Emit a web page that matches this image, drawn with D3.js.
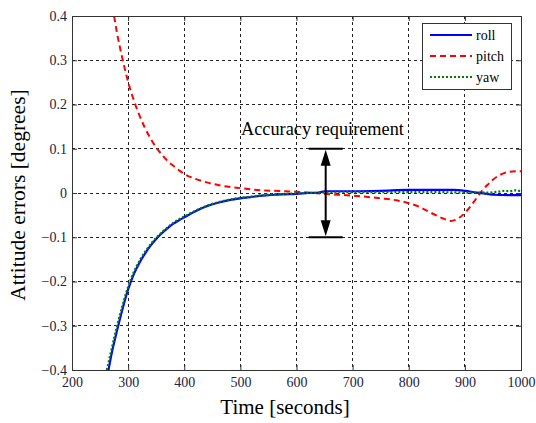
<!DOCTYPE html>
<html>
<head>
<meta charset="utf-8">
<script src="https://cdn.jsdelivr.net/npm/d3@7"></script>
<style>
  html, body { margin: 0; padding: 0; background: #fff; }
  svg { display: block; }
  text { font-family: "Liberation Serif", "Times New Roman", serif; }
</style>
</head>
<body>
<svg id="chart" width="536" height="423"></svg>
<script>
// Attitude error histories (degrees) against time (seconds)
const rollTime  = [265,270,280,290,300,310,320,330,340,350,360,370,380,390,400,420,440,460,480,500,520,540,560,580,600,620,640,650,700,750,800,850,880,900,920,940,950,1000];
const rollValue = [-0.400,-0.367,-0.312,-0.262,-0.218,-0.184,-0.158,-0.137,-0.119,-0.104,-0.091,-0.080,-0.070,-0.062,-0.055,-0.041,-0.030,-0.022,-0.016,-0.012,-0.009,-0.006,-0.004,-0.003,-0.002,0.000,0.001,0.004,0.004,0.005,0.007,0.007,0.007,0.005,0.001,-0.002,-0.004,-0.005];

const pitchTime  = [275,280,290,300,310,320,330,340,350,360,370,380,390,400,420,440,460,480,500,520,540,560,580,600,620,650,700,750,780,800,820,840,860,875,890,900,910,920,930,940,950,960,970,980,990,1000];
const pitchValue = [0.400,0.363,0.303,0.251,0.210,0.176,0.147,0.123,0.103,0.087,0.073,0.062,0.052,0.043,0.032,0.024,0.018,0.014,0.011,0.008,0.006,0.005,0.004,0.003,0.001,-0.002,-0.006,-0.012,-0.017,-0.023,-0.032,-0.045,-0.057,-0.063,-0.056,-0.045,-0.030,-0.013,0.004,0.018,0.030,0.039,0.045,0.048,0.049,0.049];

const yawTime  = [262,270,280,290,300,310,320,330,340,350,360,370,380,390,400,420,440,460,480,500,520,540,560,580,600,650,700,750,800,850,900,940,960,970,980,990,1000];
const yawValue = [-0.400,-0.356,-0.302,-0.254,-0.212,-0.179,-0.154,-0.133,-0.116,-0.101,-0.089,-0.078,-0.068,-0.060,-0.053,-0.040,-0.029,-0.021,-0.015,-0.011,-0.008,-0.005,-0.003,-0.002,-0.001,0.001,0.002,0.002,0.002,0.002,0.001,0.001,0.003,0.005,0.004,0.006,0.004];

const xTicks = [200,300,400,500,600,700,800,900,1000];
const yTicks = [-0.4,-0.3,-0.2,-0.1,0,0.1,0.2,0.3,0.4];
const seriesNames = ["roll","pitch","yaw"];
const requirementBand = [-0.1, 0.1];
const requirementTime = 652;

const svg = d3.select("#chart");
const m = { left: 72, right: 15, top: 16, bottom: 53 };
const W = 536, H = 423;
const iw = W - m.left - m.right, ih = H - m.top - m.bottom;

const x = d3.scaleLinear().domain([200, 1000]).range([0, iw]);
const y = d3.scaleLinear().domain([-0.4, 0.4]).range([ih, 0]);

const g = svg.append("g").attr("transform", `translate(${m.left},${m.top})`);

svg.append("defs").append("clipPath").attr("id", "plotClip")
  .append("rect").attr("width", iw).attr("height", ih);

// dashed grid
const grid = g.append("g").attr("class", "grid");
grid.selectAll("line.vx").data(xTicks.slice(1, -1)).join("line")
  .attr("x1", d => x(d)).attr("x2", d => x(d)).attr("y1", 0).attr("y2", ih);
grid.selectAll("line.hy").data(yTicks.slice(1, -1)).join("line")
  .attr("y1", d => y(d)).attr("y2", d => y(d)).attr("x1", 0).attr("x2", iw);
grid.selectAll("line").attr("stroke", "#222").attr("stroke-width", 1)
  .attr("stroke-dasharray", "3,3").attr("shape-rendering", "crispEdges");

// data lines
const line = d3.line().x(d => x(d[0])).y(d => y(d[1])).curve(d3.curveMonotoneX);
const zip = (t, v) => t.map((ti, i) => [ti, v[i]]);
const series = [
  { name: "roll",  data: zip(rollTime, rollValue),   color: "#0000ff", dash: null,  width: 2.2 },
  { name: "pitch", data: zip(pitchTime, pitchValue), color: "#ff0000", dash: "6,4", width: 2 },
  { name: "yaw",   data: zip(yawTime, yawValue),     color: "#008000", dash: "2,2", width: 2.2 }
];
const plot = g.append("g").attr("clip-path", "url(#plotClip)");
// pitch underneath, then roll, then yaw on top
[series[1], series[0], series[2]].forEach(s => {
  plot.append("path").datum(s.data)
    .attr("fill", "none").attr("stroke", s.color).attr("stroke-width", s.width)
    .attr("stroke-dasharray", s.dash).attr("d", line);
});

// axes with inward ticks
const tickColor = "#1c2340";
const xAxis = g.append("g").attr("transform", `translate(0,${ih})`)
  .call(d3.axisBottom(x).tickValues(xTicks).tickSize(-5).tickPadding(7).tickFormat(d3.format("d")));
const yAxis = g.append("g")
  .call(d3.axisLeft(y).tickValues(yTicks).tickSize(-5).tickPadding(5).tickFormat(d => d === 0 ? "0" : d3.format(".1f")(d)));
g.append("g").call(d3.axisTop(x).tickValues(xTicks).tickSize(-5).tickFormat(""));
g.append("g").attr("transform", `translate(${iw},0)`)
  .call(d3.axisRight(y).tickValues(yTicks).tickSize(-5).tickFormat(""));
g.selectAll(".domain").remove();
g.selectAll(".tick line").attr("stroke", "#333");
[xAxis, yAxis].forEach(a => a.selectAll("text")
  .attr("font-size", 14).attr("fill", tickColor)
  .attr("font-family", "'Liberation Serif', serif"));

// frame
g.append("rect").attr("width", iw).attr("height", ih)
  .attr("fill", "none").attr("stroke", "#333").attr("stroke-width", 1)
  .attr("shape-rendering", "crispEdges");

// axis titles
svg.append("text").attr("x", 285).attr("y", 414).attr("text-anchor", "middle")
  .attr("font-size", 21).attr("fill", "#000").text("Time [seconds]");
svg.append("text").attr("transform", "translate(25,195) rotate(-90)")
  .attr("text-anchor", "middle").attr("font-size", 21.5).attr("fill", "#000")
  .text("Attitude errors [degrees]");

// accuracy requirement annotation
const ax = x(requirementTime);
const yTop = y(requirementBand[1]), yBot = y(requirementBand[0]);
const ann = g.append("g").attr("stroke", "#000").attr("stroke-width", 2);
requirementBand.forEach(v => {
  ann.append("line").attr("x1", ax - 17).attr("x2", ax + 17)
    .attr("y1", y(v)).attr("y2", y(v));
});
ann.append("line").attr("x1", ax).attr("x2", ax)
  .attr("y1", yTop + 12).attr("y2", yBot - 12);
const headLen = 16, hw = 5;
g.append("path").attr("fill", "#000")
  .attr("d", `M${ax},${yTop + 1}L${ax - hw},${yTop + 1 + headLen}L${ax + hw},${yTop + 1 + headLen}Z`);
g.append("path").attr("fill", "#000")
  .attr("d", `M${ax},${yBot - 1}L${ax - hw},${yBot - 1 - headLen}L${ax + hw},${yBot - 1 - headLen}Z`);
g.append("text").attr("x", 241 - m.left).attr("y", 135 - m.top)
  .attr("font-size", 18.3).attr("fill", "#000").text("Accuracy requirement");

// legend
const lg = svg.append("g").attr("transform", "translate(422,23)");
lg.append("rect").attr("width", 89).attr("height", 66)
  .attr("fill", "#fff").attr("stroke", "#333").attr("stroke-width", 1)
  .attr("shape-rendering", "crispEdges");
series.forEach((s, i) => {
  const ry = 12 + i * 21;
  lg.append("line").attr("x1", 8).attr("x2", 50).attr("y1", ry).attr("y2", ry)
    .attr("stroke", s.color).attr("stroke-width", 2).attr("stroke-dasharray", s.dash);
  lg.append("text").attr("x", 54).attr("y", ry + 4.5).attr("font-size", 14)
    .attr("fill", "#000").text(seriesNames[i]);
});
</script>
</body>
</html>
